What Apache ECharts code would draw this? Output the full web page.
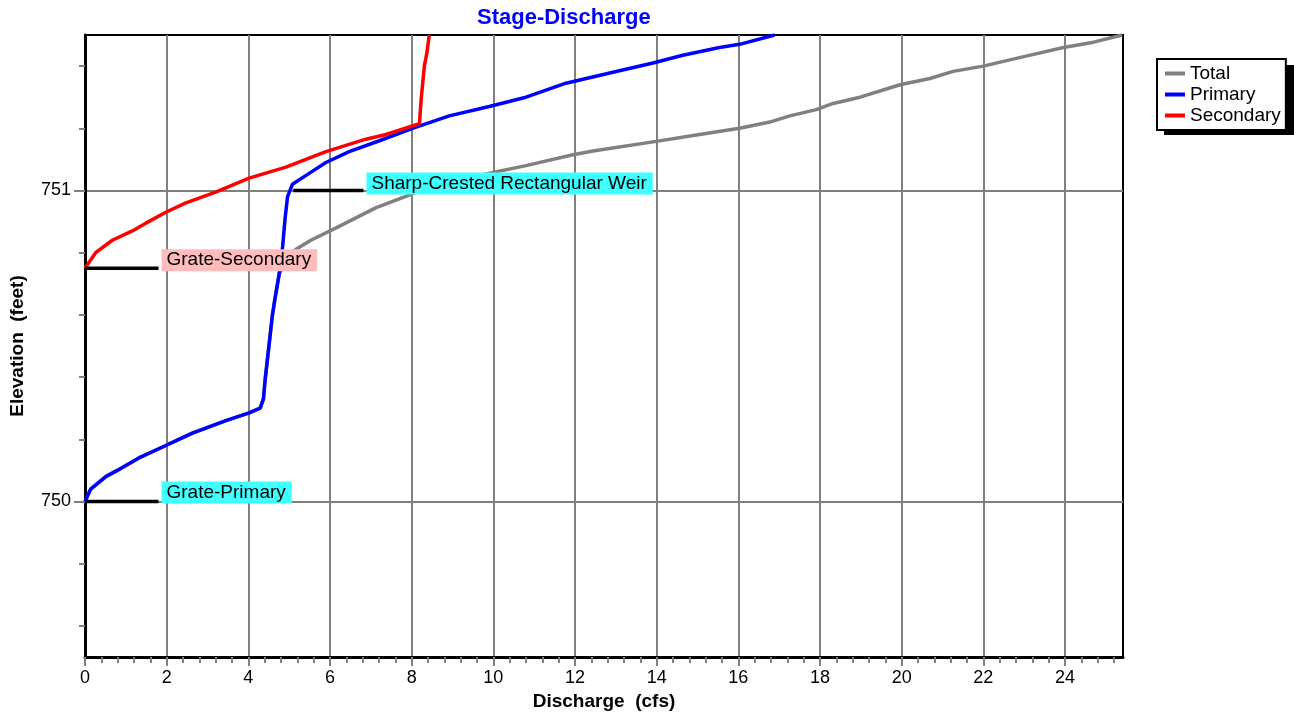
<!DOCTYPE html>
<html>
<head>
<meta charset="utf-8">
<script src="https://cdn.jsdelivr.net/npm/echarts@6/dist/echarts.min.js"></script>
<style>html,body{margin:0;padding:0;background:#fff}#chart{width:1294px;height:717px}</style>
</head>
<body>
<div id="chart"></div>
<script>
// ---- data ----
const seriesNames = ['Total', 'Primary', 'Secondary'];

const totalQ = [0, 0.14, 0.51, 0.79, 1.32, 1.98, 2.30, 2.63, 3.04, 3.45, 4.02, 4.29, 4.37, 4.41, 4.47, 4.53, 4.59, 4.65, 4.76, 5.16, 5.53, 6.15, 7.13, 7.94, 8.19, 9.99, 10.80, 11.95, 12.44, 13.99, 15.05, 16.03, 16.77, 17.26, 17.91, 18.32, 18.98, 19.96, 20.69, 21.26, 22.00, 22.65, 23.31, 23.96, 24.70, 25.40];
const totalElev = [750.00, 750.04, 750.08, 750.10, 750.14, 750.18, 750.20, 750.22, 750.24, 750.26, 750.285, 750.30, 750.33, 750.39, 750.46, 750.53, 750.60, 750.65, 750.735, 750.81, 750.84, 750.88, 750.945, 750.985, 751.00, 751.058, 751.08, 751.115, 751.127, 751.158, 751.18, 751.20, 751.22, 751.24, 751.26, 751.28, 751.30, 751.34, 751.36, 751.383, 751.40, 751.42, 751.44, 751.46, 751.477, 751.50];

const primaryQ = [0, 0.14, 0.51, 0.79, 1.32, 1.98, 2.30, 2.63, 3.04, 3.45, 4.02, 4.29, 4.37, 4.41, 4.47, 4.53, 4.59, 4.65, 4.76, 4.84, 4.90, 4.96, 5.08, 5.49, 5.90, 6.47, 7.21, 8.02, 8.92, 9.90, 10.80, 11.78, 12.93, 13.91, 14.64, 15.54, 16.03, 16.89];
const primaryElev = [750.00, 750.04, 750.08, 750.10, 750.14, 750.18, 750.20, 750.22, 750.24, 750.26, 750.285, 750.30, 750.33, 750.39, 750.46, 750.53, 750.60, 750.65, 750.735, 750.82, 750.91, 750.98, 751.02, 751.055, 751.09, 751.125, 751.16, 751.20, 751.24, 751.27, 751.30, 751.345, 751.38, 751.41, 751.435, 751.46, 751.47, 751.50];

const secondaryQ = [0, 0.02, 0.26, 0.67, 1.16, 1.49, 1.98, 2.47, 3.20, 4.02, 4.92, 5.90, 6.88, 7.37, 8.19, 8.23, 8.31, 8.37, 8.43];
const secondaryElev = [750.75, 750.755, 750.80, 750.84, 750.87, 750.895, 750.93, 750.96, 750.995, 751.04, 751.075, 751.125, 751.165, 751.18, 751.215, 751.29, 751.40, 751.44, 751.50];

const xTickLabels = [0, 2, 4, 6, 8, 10, 12, 14, 16, 18, 20, 22, 24];
const yTickLabels = [750, 751];

const annotationNames = ['Grate-Primary', 'Grate-Secondary', 'Sharp-Crested Rectangular Weir'];
const annotationStartQ = [0, 0, 5.10];
const annotationEndQ = [1.80, 1.80, 6.82];
const annotationElev = [750.00, 750.75, 751.00];

// ---- styles ----
const FONT = "'Liberation Sans', Arial, sans-serif";
const X_MIN = 0, X_MAX = 25.42, Y_MIN = 749.5, Y_MAX = 751.5;
const seriesColors = ['#808080', '#0000ff', '#ff0000'];
const annotationBg = ['#40ffff', '#ffbcbc', '#40ffff'];
const annotationOffsetY = [-9, -8, -7];

const xMinorTicks = [];
for (let i = 1; i * 0.4 < X_MAX; i++) { if (i % 5 !== 0) xMinorTicks.push(+(i * 0.4).toFixed(2)); }
const yMinorTicks = [];
for (let i = 1; Y_MIN + i * 0.1 < Y_MAX; i++) {
  const v = +(Y_MIN + i * 0.1).toFixed(2);
  if (Math.round(v * 10) % 2 === 0 && Math.round(v * 10) % 10 !== 0) yMinorTicks.push(v);
}

const zip = (a, b) => a.map((v, i) => [v, b[i]]);
const curves = [zip(totalQ, totalElev), zip(primaryQ, primaryElev), zip(secondaryQ, secondaryElev)];

const series = seriesNames.map((n, i) => ({
  name: n, type: 'line', data: curves[i], showSymbol: false, symbol: 'none',
  lineStyle: { color: seriesColors[i], width: 3.5 }, itemStyle: { color: seriesColors[i] },
  z: 3 + i
}));

annotationNames.forEach((n, i) => {
  series.push({
    name: n, type: 'line', symbol: 'none', showSymbol: false, z: 10,
    data: [[annotationStartQ[i], annotationElev[i]], [annotationEndQ[i], annotationElev[i]]],
    lineStyle: { color: '#000', width: 3.5 },
    endLabel: {
      show: true, formatter: n, distance: 3, offset: [0, annotationOffsetY[i]],
      backgroundColor: annotationBg[i], padding: [2, 6, 1, 5],
      fontSize: 19, fontFamily: FONT, color: '#000'
    }
  });
});

const chart = echarts.init(document.getElementById('chart'), null, { renderer: 'canvas' });
chart.setOption({
  animation: false,
  backgroundColor: '#fff',
  title: {
    text: 'Stage-Discharge', left: 472, top: 2,
    textStyle: { color: '#0000ff', fontSize: 22, fontWeight: 'bold', fontFamily: FONT }
  },
  graphic: [{
    type: 'rect', z: 0, silent: true,
    shape: { x: 1164, y: 65, width: 130, height: 70 },
    style: { fill: '#000' }
  }],
  legend: {
    data: seriesNames, orient: 'vertical', left: 1157, top: 59, z: 5,
    backgroundColor: '#fff', borderColor: '#000', borderWidth: 2,
    padding: [5, 5, 5, 8], itemWidth: 20, itemHeight: 4, itemGap: 2, icon: 'rect',
    textStyle: { fontSize: 19, lineHeight: 18, color: '#000', fontFamily: FONT }
  },
  grid: {
    left: 85, right: 171, top: 35, bottom: 60,
    show: true, borderColor: '#000', borderWidth: 2, backgroundColor: 'transparent'
  },
  xAxis: [{
    type: 'value', min: X_MIN, max: X_MAX, position: 'bottom',
    name: 'Discharge  (cfs)', nameLocation: 'middle', nameGap: 33,
    nameTextStyle: { fontSize: 19, fontWeight: 'bold', color: '#000', fontFamily: FONT },
    axisLine: { show: true, onZero: false, lineStyle: { color: '#000', width: 3 } },
    axisTick: { show: true, customValues: xTickLabels, length: 9, lineStyle: { color: '#808080', width: 2 } },
    axisLabel: { show: true, customValues: xTickLabels, margin: 12, fontSize: 18, color: '#000', fontFamily: FONT },
    splitLine: { show: true, lineStyle: { color: '#808080', width: 2 } }
  }, {
    type: 'value', min: X_MIN, max: X_MAX, position: 'bottom', offset: 0,
    axisLine: { show: false },
    axisTick: { show: true, customValues: xMinorTicks, length: 6, lineStyle: { color: '#808080', width: 2 } },
    axisLabel: { show: false }, splitLine: { show: false }
  }],
  yAxis: [{
    type: 'value', min: Y_MIN, max: Y_MAX, position: 'left',
    name: 'Elevation  (feet)', nameLocation: 'middle', nameGap: 58,
    nameTextStyle: { fontSize: 19, fontWeight: 'bold', color: '#000', fontFamily: FONT },
    axisLine: { show: true, onZero: false, lineStyle: { color: '#000', width: 3 } },
    axisTick: { show: true, customValues: yTickLabels, length: 11, lineStyle: { color: '#808080', width: 2 } },
    axisLabel: { show: true, customValues: yTickLabels, margin: 14, fontSize: 18, color: '#000', fontFamily: FONT },
    splitLine: { show: true, lineStyle: { color: '#808080', width: 2 } }
  }, {
    type: 'value', min: Y_MIN, max: Y_MAX, position: 'left', offset: 0,
    axisLine: { show: false },
    axisTick: { show: true, customValues: yMinorTicks, length: 6, lineStyle: { color: '#808080', width: 2 } },
    axisLabel: { show: false }, splitLine: { show: false }
  }],
  series: series
});
</script>
</body>
</html>
